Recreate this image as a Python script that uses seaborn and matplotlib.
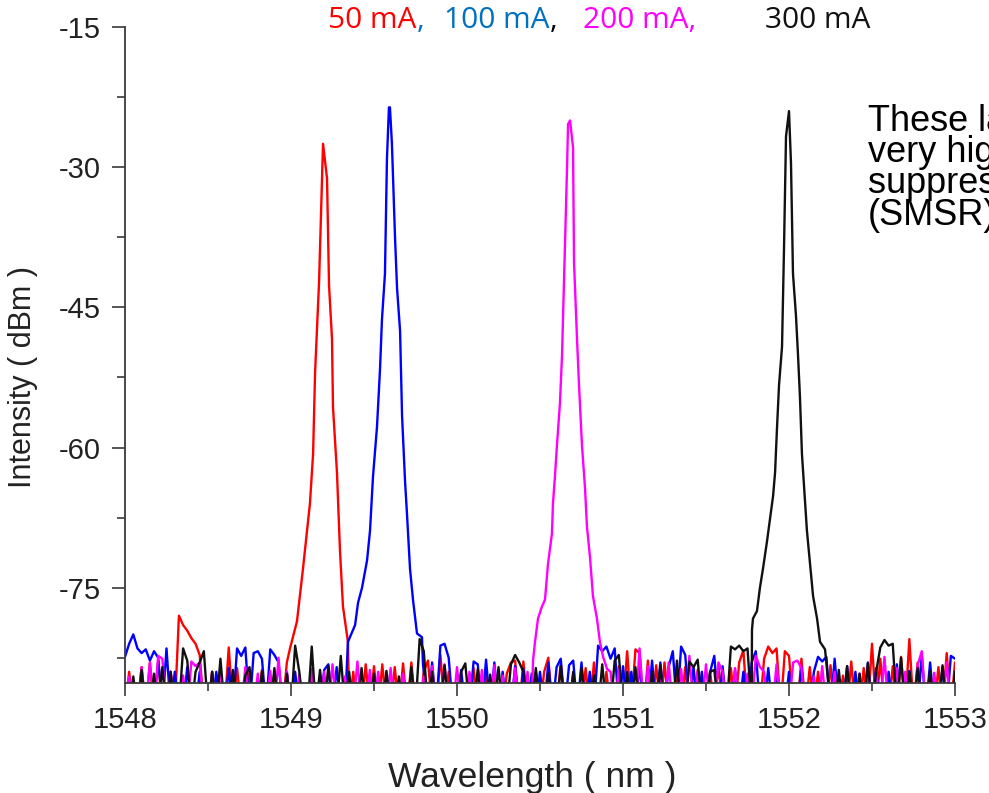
import numpy as np
import pandas as pd
import matplotlib
matplotlib.use("Agg")
import matplotlib.pyplot as plt
import seaborn as sns

# ---------------------------------------------------------------------------
# Optical spectra of the laser at four drive currents
# ---------------------------------------------------------------------------
currents = ["50 mA", "100 mA", "200 mA", "300 mA"]
line_colors = ["#ff0000", "#0000ff", "#ff00ff", "#111111"]

# OSA sampling grid of the background (0.025 nm steps, 1548-1553 nm)
grid_start_nm = 1548.0
grid_step_nm = 0.025

# Background noise readings (dBm) on the sampling grid, 20 samples per 0.5 nm
noise_50 = [
    -88, -84, -88, -88, -83.5, -88, -83, -88, -82.8, -88, -88, -84, -88, -78, -79, -79.6, -80.4, -81, -82.2, -88,
    -88, -84, -88, -88, -88, -81.4, -88, -83.6, -88, -88, -84, -88, -88, -83.8, -88, -88, -84.2, -88, -88, -83,
    -88, -88, -88, -88, -88, -88, -88, -88, -88, -88, -88, -88, -88, -88, -88, -84, -88, -88, -83.2, -88,
    -83.4, -88, -83.2, -88, -88, -83.5, -88, -83.1, -88, -83, -88, -88, -84, -82.8, -88, -88, -82.2, -88, -84, -88,
    -88, -84.5, -88, -88, -83.6, -88, -88, -84, -88, -83.8, -88, -88, -84.2, -83, -82.8, -88, -82.9, -88, -88, -84,
    -88, -84, -82.5, -88, -88, -83, -88, -88, -84.3, -88, -88, -83.6, -88, -83, -88, -88, -84, -88, -88, -83.4,
    -88, -81.8, -88, -81.6, -82, -88, -82.8, -88, -83.3, -88, -83, -88, -88, -84, -88, -83.5, -88, -88, -83.8, -88,
    -88, -84, -88, -83.2, -88, -88, -83.6, -88, -83, -81.7, -88, -83.8, -88, -88, -82.6, -81.3, -82, -81.5, -88, -81.8,
    -82.3, -88, -88, -82.6, -88, -83.5, -88, -84, -88, -88, -83.3, -88, -88, -84.4, -88, -82.9, -88, -88, -83.6, -88,
    -81, -88, -82.6, -88, -88, -83.4, -88, -82.4, -88, -80.5, -88, -83, -88, -88, -84, -88, -83.5, -88, -82, -88,
    -83,
]
noise_100 = [
    -82.4, -81, -80, -81.5, -82, -81.6, -82.8, -81.8, -82.5, -88, -81.5, -88, -84, -88, -88, -83.5, -88, -88, -84, -88,
    -88, -88, -84, -88, -88, -83.6, -88, -81.5, -82.3, -81.4, -88, -82, -81.8, -82.6, -88, -81.6, -82.2, -83, -88, -84,
    -88, -84, -88, -88, -88, -84.5, -88, -88, -83.8, -83.2, -88, -83.5, -88, -88, -88, -88, -88, -88, -88, -88,
    -88, -88, -88, -88, -88, -88, -88, -88, -88, -88, -88, -88, -84, -88, -83, -88, -81.2, -81, -82.5, -88,
    -88, -83.8, -88, -88, -82.9, -83.2, -88, -82.7, -88, -83, -88, -84, -88, -88, -83.4, -88, -83.7, -88, -84.2, -88,
    -84, -88, -83, -88, -83.5, -82.6, -88, -83.3, -82.8, -88, -83, -88, -84, -88, -81.2, -81.8, -81.3, -82.6, -81.5, -88,
    -83.4, -88, -84, -88, -83.2, -88, -88, -82.8, -88, -83, -88, -83.5, -81.8, -88, -81.3, -82.2, -88, -83.5, -88, -84,
    -88, -84, -82.3, -88, -83.4, -88, -88, -83.8, -88, -84, -88, -83, -81.8, -88, -88, -83.6, -88, -84.3, -88, -88,
    -84, -88, -88, -83.5, -88, -88, -84, -82.4, -82.9, -82.4, -88, -82.6, -88, -88, -83.4, -88, -84, -88, -88, -83,
    -88, -83.6, -88, -88, -84, -88, -83.2, -88, -88, -83.9, -88, -88, -82.2, -88, -83, -88, -88, -83.5, -88, -82.3,
    -82.6,
]
noise_200 = [
    -88, -84.5, -88, -88, -83.5, -88, -83, -88, -82.3, -82.6, -88, -84, -88, -88, -84.4, -88, -82.9, -83.4, -83, -88,
    -88, -84, -88, -83.8, -88, -88, -84.6, -88, -88, -83.5, -88, -88, -84.2, -88, -88, -83.9, -88, -82.5, -88, -84,
    -88, -88, -84.3, -88, -88, -83.7, -88, -88, -84, -88, -83.2, -88, -88, -84.5, -88, -88, -82.9, -88, -88, -83.8,
    -88, -84, -88, -88, -83.6, -88, -88, -84.2, -88, -83.9, -88, -88, -84.5, -88, -83.4, -88, -88, -83.2, -88, -88,
    -83.5, -88, -88, -84, -88, -88, -83.8, -88, -88, -83.3, -88, -84.4, -88, -88, -83.6, -88, -88, -84, -88, -88,
    -88, -88, -88, -88, -88, -88, -88, -88, -88, -88, -88, -88, -88, -88, -88, -88, -88, -84, -88, -83.7,
    -88, -84, -88, -88, -81.5, -88, -83.4, -88, -88, -84, -88, -83, -88, -88, -83.7, -88, -82.3, -88, -84, -88,
    -83.2, -88, -88, -83, -84, -88, -88, -83.6, -88, -88, -84.2, -88, -82.3, -83.5, -84, -88, -88, -83.2, -88, -88,
    -88, -83, -82.8, -83.6, -88, -88, -84.5, -88, -83.4, -88, -88, -84, -88, -88, -83.7, -88, -88, -84.2, -88, -83.4,
    -88, -84, -88, -82.4, -88, -88, -83.6, -88, -84, -88, -88, -83.3, -81.8, -88, -88, -84.1, -88, -88, -83, -88,
    -88,
]
noise_300 = [
    -88, -88, -84.5, -88, -83.8, -88, -88, -84.2, -88, -83.5, -88, -84, -88, -88, -81.5, -82.8, -88, -84, -83, -81.8,
    -88, -84, -88, -82.6, -88, -88, -83.8, -88, -88, -84.4, -83.5, -88, -88, -84, -88, -88, -83.6, -88, -88, -84.2,
    -88, -81.2, -84, -88, -88, -81.3, -88, -83.8, -88, -83.4, -88, -88, -82.3, -88, -84, -88, -88, -83.6, -88, -88,
    -84.2, -88, -88, -83.9, -88, -88, -84.5, -88, -88, -83.5, -88, -80.5, -81.8, -88, -84, -88, -88, -83.3, -88, -88,
    -88, -84, -83.1, -88, -88, -83.7, -88, -88, -84.3, -88, -83.5, -88, -88, -83.2, -82.2, -83, -84, -88, -88, -83.6,
    -88, -88, -84.2, -88, -88, -83.4, -88, -88, -84, -88, -83.6, -88, -88, -84.4, -88, -83.2, -88, -88, -82.8, -82.2,
    -88, -84, -88, -83.5, -88, -88, -88, -84, -88, -83.3, -88, -88, -88, -82.8, -88, -88, -82.9, -83.5, -82.7, -88,
    -88, -84, -83.8, -88, -88, -88, -81.3, -81.6, -81.2, -81.8, -81.5, -88, -88, -88, -88, -88, -88, -88, -88, -88,
    -88, -88, -88, -88, -88, -88, -88, -88, -88, -83, -88, -88, -83.8, -88, -83.4, -88, -88, -84.2, -88, -83.1,
    -88, -84, -81.4, -80.6, -81.2, -81, -88, -82.5, -88, -84, -88, -83.6, -88, -88, -83.9, -88, -88, -83.3, -88, -88,
    -84,
]

# Lasing peaks, finely sampled (wavelength in nm, intensity in dBm)
peak_50_nm = [1548.994, 1549.036, 1549.072, 1549.114, 1549.133, 1549.145, 1549.157, 1549.169, 1549.187,
              1549.193, 1549.217, 1549.229, 1549.247, 1549.253, 1549.277, 1549.295, 1549.313, 1549.343]
peak_50_dbm = [-81.5, -78.6, -73.0, -66.0, -60.7, -52.0, -47.2, -42.3, -31.2,
               -27.5, -31.2, -42.6, -48.4, -55.7, -62.7, -71.0, -77.0, -80.8]

peak_100_nm = [1549.343, 1549.386, 1549.404, 1549.428, 1549.458, 1549.476, 1549.494, 1549.518, 1549.536,
               1549.548, 1549.566, 1549.578, 1549.590, 1549.596, 1549.608, 1549.627, 1549.639, 1549.657,
               1549.669, 1549.687, 1549.699, 1549.717, 1549.735, 1549.759, 1549.789, 1549.795]
peak_100_dbm = [-80.8, -79.0, -76.6, -75.0, -72.1, -68.9, -63.1, -57.8, -51.7,
                -46.3, -41.4, -29.1, -23.6, -23.6, -27.5, -37.7, -43.0, -47.5,
                -56.6, -63.6, -67.2, -73.0, -76.3, -79.9, -80.3, -83.2]

peak_200_nm = [1550.458, 1550.470, 1550.488, 1550.512, 1550.530, 1550.548, 1550.572, 1550.578, 1550.590,
               1550.602, 1550.620, 1550.633, 1550.639, 1550.663, 1550.669, 1550.681, 1550.699, 1550.705,
               1550.723, 1550.735, 1550.753, 1550.771, 1550.783, 1550.801, 1550.819, 1550.843, 1550.861,
               1550.880, 1550.904]
peak_200_dbm = [-82.8, -80.8, -78.3, -77.0, -76.3, -72.5, -69.2, -66.0, -63.1,
                -59.8, -55.3, -50.0, -45.9, -30.0, -25.4, -25.0, -27.9, -40.2,
                -48.4, -53.3, -59.8, -64.3, -68.5, -71.7, -75.9, -78.3, -80.8,
                -82.4, -83.7]

peak_300_nm = [1551.777, 1551.783, 1551.807, 1551.825, 1551.843, 1551.867, 1551.886, 1551.904, 1551.916,
               1551.928, 1551.940, 1551.958, 1551.964, 1551.970, 1551.982, 1552.000, 1552.012, 1552.024,
               1552.042, 1552.054, 1552.066, 1552.078, 1552.096, 1552.108, 1552.127, 1552.145, 1552.169,
               1552.187, 1552.217]
peak_300_dbm = [-79.5, -78.3, -77.5, -75.0, -73.0, -70.1, -67.6, -65.2, -62.7,
                -57.8, -53.3, -49.2, -43.9, -38.6, -26.7, -24.0, -29.6, -41.4,
                -45.9, -50.0, -54.6, -60.7, -65.6, -68.9, -72.5, -75.9, -78.3,
                -80.8, -81.6]

x_ticks = [1548, 1549, 1550, 1551, 1552, 1553]
y_ticks = [-75, -60, -45, -30, -15]


def spectrum(noise, peak_nm, peak_dbm):
    """Merge the background trace with the finely sampled lasing peak."""
    noise = np.asarray(noise, dtype=float)
    nm = np.round(grid_start_nm + grid_step_nm * np.arange(noise.size), 3)
    keep = (nm < peak_nm[0]) | (nm > peak_nm[-1])
    wl = np.concatenate([nm[keep], peak_nm])
    db = np.concatenate([noise[keep], peak_dbm])
    order = np.argsort(wl)
    return wl[order], db[order]


frames = []
for cur, nz, pn, pd_ in zip(currents,
                            [noise_50, noise_100, noise_200, noise_300],
                            [peak_50_nm, peak_100_nm, peak_200_nm, peak_300_nm],
                            [peak_50_dbm, peak_100_dbm, peak_200_dbm, peak_300_dbm]):
    wl, db = spectrum(nz, pn, pd_)
    frames.append(pd.DataFrame({"wavelength": wl, "intensity": db, "current": cur}))
df = pd.concat(frames, ignore_index=True)

# ---------------------------------------------------------------------------
sns.set_style("ticks")
plt.rcParams["font.family"] = ["Liberation Sans", "DejaVu Sans"]
plt.rcParams["axes.unicode_minus"] = False

W, H = 989, 793
fig = plt.figure(figsize=(W / 100, H / 100), dpi=100)
ax = fig.add_axes([125 / W, 1 - 683 / H, (955 - 125) / W, (683 - 27) / H])

sns.lineplot(data=df, x="wavelength", y="intensity", hue="current",
             hue_order=currents, palette=line_colors, estimator=None,
             sort=True, legend=False, linewidth=1.7, ax=ax)

ax.set_xlim(1548, 1553)
ax.set_ylim(-85.2, -15)
ax.set_xticks(x_ticks)
ax.set_xticklabels([str(t) for t in x_ticks])
ax.set_xticks([1548.5, 1549.5, 1550.5, 1551.5, 1552.5], minor=True)
ax.set_yticks(y_ticks)
ax.set_yticklabels([str(t) for t in y_ticks])
ax.set_yticks([-82.5, -67.5, -52.5, -37.5, -22.5], minor=True)
ax.set_xlabel("")
ax.set_ylabel("")

spine_color = "#3a3a3a"
for side in ["top", "right"]:
    ax.spines[side].set_visible(False)
for side in ["left", "bottom"]:
    ax.spines[side].set_color(spine_color)
    ax.spines[side].set_linewidth(1.3)

ax.tick_params(axis="both", which="major", direction="out", length=9.5, width=1.2,
               color=spine_color, labelsize=21, labelcolor="#222222")
ax.tick_params(axis="both", which="minor", direction="out", length=6, width=1.2,
               color=spine_color)
ax.tick_params(axis="y", which="major", pad=8)
ax.tick_params(axis="x", which="major", pad=7)

# Axis titles
fig.text(532 / W, 1 - 787 / H, "Wavelength ( nm )", ha="center", va="baseline",
         fontsize=25.5, color="#222222")
fig.text(23 / W, 1 - 377 / H, "Intensity ( dBm )", ha="center", va="center",
         rotation=90, fontsize=22, color="#222222")

# Colour-coded current key along the top
renderer = fig.canvas.get_renderer()
key_font = ["Open Sans", "DejaVu Sans"]
key_groups = [
    (328, [("50 mA", "#ff0000"), (",", "#0070c0")]),
    (444, [("100 mA", "#0070c0"), (",", "#000000")]),
    (583, [("200 mA,", "#ff00ff")]),
    (765, [("300 mA", "#111111")]),
]
for x0, pieces in key_groups:
    x = x0
    for s, col in pieces:
        t = fig.text(x / W, 1 - 28 / H, s, ha="left", va="baseline",
                     fontsize=21.5, color=col, family=key_font)
        x = t.get_window_extent(renderer).x1 + 0.5

# Side note, running off the right-hand edge of the figure
note = "These lasers have\nvery high side-mode\nsuppression ratio\n(SMSR)"
fig.text(868 / W, 1 - 104 / H, note, ha="left", va="top", fontsize=26,
         linespacing=0.86, color="#000000")

fig.savefig("out.png", dpi=100)
